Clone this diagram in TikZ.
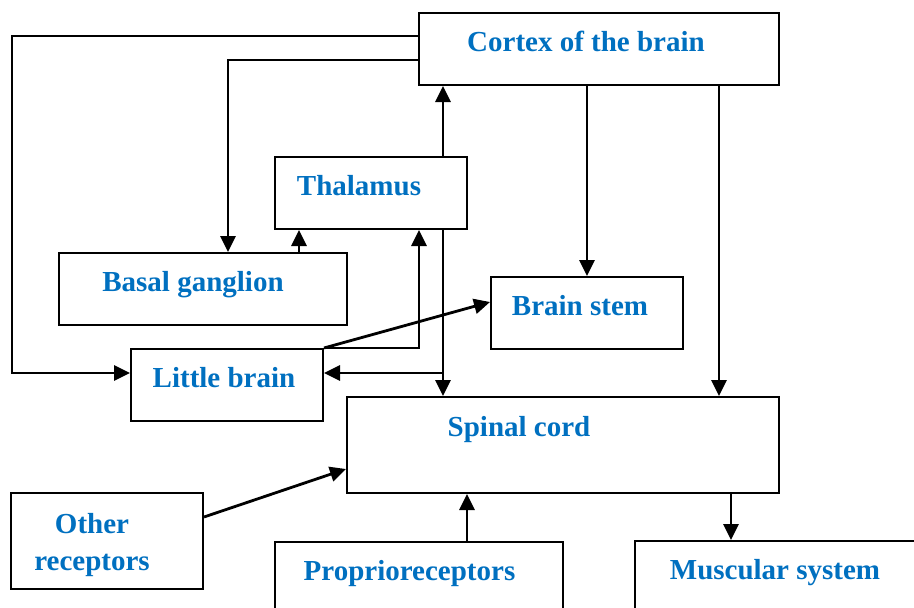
\documentclass[tikz,border=0pt]{standalone}
\usepackage{fontspec}
\setmainfont{Liberation Serif}
\usetikzlibrary{arrows.meta,positioning,calc}
\definecolor{txtblue}{RGB}{0,112,192}

\begin{document}
\begin{tikzpicture}[
            x=1pt, y=-1pt,
            block/.style={rectangle, draw=black, line width=2pt, fill=white, inner sep=0pt, minimum width=192pt, minimum height=72pt},
            lbl/.style={text=txtblue, font=\fontsize{29}{37}\selectfont\bfseries, inner sep=0pt, text height=19.2pt, text depth=0pt},
            lbltwo/.style={text=txtblue, font=\fontsize{29}{37}\selectfont\bfseries, inner sep=0pt, align=center},
            arrow/.style={line width=2.8pt, -{Triangle[length=16pt,width=15pt]}}
        ]
        \clip (0,0) rectangle (914,608);

        % Nodes
        \node (cortex) [block, minimum width=360pt, label={[lbl,xshift=-13pt,yshift=7.6pt]center:Cortex of the brain}] at (599,49) {};
        \node (thal) [block, label={[lbl,xshift=-12pt,yshift=7.6pt]center:Thalamus}] at (371,193) {};
        \node (basal) [block, minimum width=288pt, label={[lbl,xshift=-10pt,yshift=7.6pt]center:Basal ganglion}] at (203,289) {};
        \node (stem) [block, label={[lbl,xshift=-7pt,yshift=7.6pt]center:Brain stem}] at (587,313) {};
        \node (little) [block, label={[lbl,xshift=-3pt,yshift=7.6pt]center:Little brain}] at (227,385) {};
        \node (spinal) [block, minimum width=432pt, minimum height=96pt, label={[lbl,xshift=-44pt,yshift=18.6pt]center:Spinal cord}] at (563,445) {};
        \node (other) [block, minimum height=96pt, label={[lbltwo,xshift=-15pt,yshift=-4pt]center:Other\\receptors}] at (107,541) {};
        \node (proprio) [block, minimum width=288pt, minimum height=80pt, label={[lbl,xshift=-9.5pt,yshift=11.6pt]center:Proprioreceptors}] at (419,582) {};
        \node (muscle) [block, minimum width=290pt, minimum height=80pt, label={[lbl,xshift=-5pt,yshift=11.6pt]center:Muscular system}] at (780,581) {};

        \coordinate (lft) at (12,373);

        % Connections
        \draw [arrow] ([yshift=-24pt]cortex.north west) -| (lft) -- (little.west |- lft);
        \draw [arrow] ([yshift=-48pt]cortex.north west) -| ([xshift=25pt]basal.north);
        \draw [arrow] ([xshift=72pt]thal.north) -- ([xshift=72pt]thal.north |- cortex.south);
        \draw [arrow] ([xshift=72pt]thal.south) -- ([xshift=72pt]thal.south |- spinal.north);
        \draw [arrow] ([xshift=72pt]thal.south |- lft) -- (little.east |- lft);
        \draw [arrow] ([xshift=96pt]basal.north) -- ([xshift=96pt]basal.north |- thal.south);
        \draw [arrow] (little.north east) -| ([xshift=48pt]thal.south);
        \draw [arrow] (little.north east) -- ([yshift=11pt]stem.west);
        \draw [arrow] (cortex.south -| stem.north) -- (stem.north);
        \draw [arrow] ([xshift=120pt]cortex.south) -- ([xshift=120pt]cortex.south |- spinal.north);
        \draw [arrow] ([yshift=24pt]other.east) -- ([yshift=-24pt]spinal.west);
        \draw [arrow] ([xshift=48pt]proprio.north) -- ([xshift=48pt]proprio.north |- spinal.south);
        \draw [arrow] ([xshift=168pt]spinal.south) -- ([xshift=168pt]spinal.south |- muscle.north);

    \end{tikzpicture}
\end{document}
